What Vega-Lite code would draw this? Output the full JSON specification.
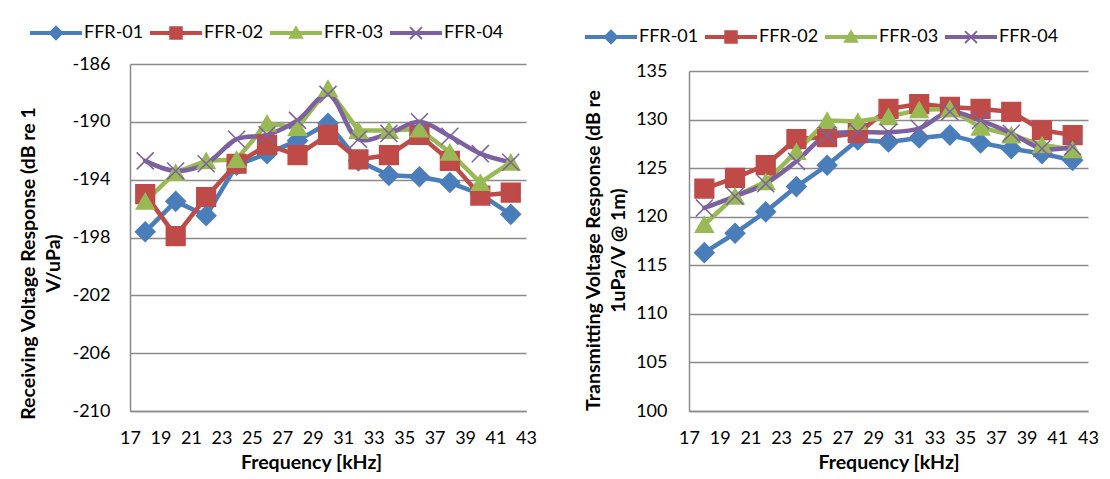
{
  "$schema": "https://vega.github.io/schema/vega-lite/v6.json",
  "background": "white",
  "padding": {"left": 18, "top": 25, "right": 5, "bottom": 0},
  "spacing": 46,
  "config": {
    "font": "Lato",
    "view": {"stroke": null},
    "axis": {
      "domainColor": "#8a8a8a", "domainWidth": 1.5,
      "gridColor": "#8a8a8a", "gridWidth": 1.5,
      "ticks": false,
      "labelFont": "Lato", "labelFontSize": 18, "labelColor": "#000000",
      "titleFont": "Lato", "titleFontSize": 19.5, "titleFontWeight": "bold", "titleColor": "#000000",
      "titleLineHeight": 25
    },
    "legend": {
      "labelFont": "Lato", "labelFontSize": 18, "labelColor": "#000000",
      "symbolSize": 2700, "clipHeight": 16, "labelOffset": 2, "columnPadding": 6, "padding": 0,
      "symbolStrokeWidth": 0
    }
  },
  "datasets": {
    "d": [
      {"f": 18, "s": "FFR-01", "rvr": -197.6, "tvr": 116.3},
      {"f": 20, "s": "FFR-01", "rvr": -195.5, "tvr": 118.3},
      {"f": 22, "s": "FFR-01", "rvr": -196.5, "tvr": 120.5},
      {"f": 24, "s": "FFR-01", "rvr": -193.0, "tvr": 123.1},
      {"f": 26, "s": "FFR-01", "rvr": -192.2, "tvr": 125.3},
      {"f": 28, "s": "FFR-01", "rvr": -191.3, "tvr": 127.9},
      {"f": 30, "s": "FFR-01", "rvr": -190.1, "tvr": 127.7},
      {"f": 32, "s": "FFR-01", "rvr": -192.7, "tvr": 128.1},
      {"f": 34, "s": "FFR-01", "rvr": -193.7, "tvr": 128.4},
      {"f": 36, "s": "FFR-01", "rvr": -193.8, "tvr": 127.6},
      {"f": 38, "s": "FFR-01", "rvr": -194.2, "tvr": 127.0},
      {"f": 40, "s": "FFR-01", "rvr": -195.0, "tvr": 126.5},
      {"f": 42, "s": "FFR-01", "rvr": -196.4, "tvr": 125.8},
      {"f": 18, "s": "FFR-02", "rvr": -195.0, "tvr": 122.9},
      {"f": 20, "s": "FFR-02", "rvr": -197.9, "tvr": 124.0},
      {"f": 22, "s": "FFR-02", "rvr": -195.2, "tvr": 125.3},
      {"f": 24, "s": "FFR-02", "rvr": -192.9, "tvr": 128.0},
      {"f": 26, "s": "FFR-02", "rvr": -191.6, "tvr": 128.2},
      {"f": 28, "s": "FFR-02", "rvr": -192.3, "tvr": 128.6},
      {"f": 30, "s": "FFR-02", "rvr": -190.9, "tvr": 131.1},
      {"f": 32, "s": "FFR-02", "rvr": -192.6, "tvr": 131.6},
      {"f": 34, "s": "FFR-02", "rvr": -192.3, "tvr": 131.3},
      {"f": 36, "s": "FFR-02", "rvr": -190.9, "tvr": 131.1},
      {"f": 38, "s": "FFR-02", "rvr": -192.7, "tvr": 130.8},
      {"f": 40, "s": "FFR-02", "rvr": -195.1, "tvr": 128.9},
      {"f": 42, "s": "FFR-02", "rvr": -194.9, "tvr": 128.4},
      {"f": 18, "s": "FFR-03", "rvr": -195.5, "tvr": 119.2},
      {"f": 20, "s": "FFR-03", "rvr": -193.5, "tvr": 122.1},
      {"f": 22, "s": "FFR-03", "rvr": -192.7, "tvr": 123.6},
      {"f": 24, "s": "FFR-03", "rvr": -192.6, "tvr": 126.7},
      {"f": 26, "s": "FFR-03", "rvr": -190.1, "tvr": 129.9},
      {"f": 28, "s": "FFR-03", "rvr": -190.4, "tvr": 129.8},
      {"f": 30, "s": "FFR-03", "rvr": -187.7, "tvr": 130.3},
      {"f": 32, "s": "FFR-03", "rvr": -190.6, "tvr": 131.0},
      {"f": 34, "s": "FFR-03", "rvr": -190.6, "tvr": 131.1},
      {"f": 36, "s": "FFR-03", "rvr": -190.5, "tvr": 129.2},
      {"f": 38, "s": "FFR-03", "rvr": -192.1, "tvr": 128.4},
      {"f": 40, "s": "FFR-03", "rvr": -194.2, "tvr": 127.4},
      {"f": 42, "s": "FFR-03", "rvr": -192.8, "tvr": 126.9},
      {"f": 18, "s": "FFR-04", "rvr": -192.7, "tvr": 120.9},
      {"f": 20, "s": "FFR-04", "rvr": -193.4, "tvr": 122.1},
      {"f": 22, "s": "FFR-04", "rvr": -192.9, "tvr": 123.4},
      {"f": 24, "s": "FFR-04", "rvr": -191.2, "tvr": 125.7},
      {"f": 26, "s": "FFR-04", "rvr": -190.9, "tvr": 128.4},
      {"f": 28, "s": "FFR-04", "rvr": -189.9, "tvr": 128.7},
      {"f": 30, "s": "FFR-04", "rvr": -188.1, "tvr": 128.7},
      {"f": 32, "s": "FFR-04", "rvr": -191.2, "tvr": 129.1},
      {"f": 34, "s": "FFR-04", "rvr": -190.8, "tvr": 130.8},
      {"f": 36, "s": "FFR-04", "rvr": -190.0, "tvr": 129.9},
      {"f": 38, "s": "FFR-04", "rvr": -191.0, "tvr": 128.6},
      {"f": 40, "s": "FFR-04", "rvr": -192.2, "tvr": 127.0},
      {"f": 42, "s": "FFR-04", "rvr": -192.8, "tvr": 127.2}
    ]
  },
  "resolve": {"scale": {"color": "independent", "y": "independent", "x": "independent"}, "legend": {"color": "independent"}},
  "hconcat": [
    {
      "width": 396,
      "height": 347,
      "data": {"name": "d"},
      "encoding": {
        "x": {"field": "f", "type": "quantitative", "scale": {"domain": [17, 43], "nice": false, "zero": false},
              "axis": {"title": "Frequency [kHz]", "values": [17,19,21,23,25,27,29,31,33,35,37,39,41,43], "grid": false, "labelPadding": 18, "titlePadding": 6, "titleX": 181, "labelFlush": false}},
        "y": {"field": "rvr", "type": "quantitative", "scale": {"domain": [-210, -186], "nice": false, "zero": false},
              "axis": {"title": ["Receiving Voltage Response (dB re 1", "V/uPa)"], "values": [-210,-206,-202,-198,-194,-190,-186], "labelExpr": "toString(datum.value)", "grid": true, "labelPadding": 20, "titlePadding": 8, "titleY": 199}}
      },
      "layer": [
        {
          "transform": [{"filter": "datum.s !== 'FFR-04'"}],
          "mark": {"type": "line", "strokeWidth": 4.5, "strokeCap": "round", "strokeJoin": "round"},
          "encoding": {
            "color": {"field": "s", "type": "nominal",
              "scale": {"domain": ["FFR-01","FFR-02","FFR-03","FFR-04"], "range": ["#4A7EBB","#BE4B48","#98B954","#7D60A0"]},
              "legend": {"title": null, "orient": "none", "direction": "horizontal", "legendX": -100, "legendY": -39,
                "encode": {"symbols": {"update": {
                  "shape": {"signal": "datum.value === 'FFR-01' ? 'M-1,-0.08L1,-0.08L1,0.08L-1,0.08ZM-0.3,0L0,-0.3L0.3,0L0,0.3Z' : datum.value === 'FFR-02' ? 'M-1,-0.08L1,-0.08L1,0.08L-1,0.08ZM-0.26,-0.26L0.26,-0.26L0.26,0.26L-0.26,0.26Z' : datum.value === 'FFR-03' ? 'M-1,-0.08L1,-0.08L1,0.08L-1,0.08ZM0,-0.3L0.3,0.22L-0.3,0.22Z' : 'M-1,-0.08L1,-0.08L1,0.08L-1,0.08ZM-0.205,-0.255L0.255,0.205L0.205,0.255L-0.255,-0.205ZM-0.255,0.205L0.205,-0.255L0.255,-0.205L-0.205,0.255Z'"},
                  "fill": {"signal": "datum.value === 'FFR-01' ? '#4A7EBB' : datum.value === 'FFR-02' ? '#BE4B48' : datum.value === 'FFR-03' ? '#98B954' : '#7D60A0'"},
                  "fillOpacity": {"value": 1},
                  "strokeWidth": {"value": 0}
                }}}}
            }
          }
        },
        {
          "transform": [{"filter": "datum.s === 'FFR-04'"}],
          "mark": {"type": "line", "strokeWidth": 4.5, "strokeCap": "round", "strokeJoin": "round", "interpolate": "catmull-rom"},
          "encoding": {
            "color": {"field": "s", "type": "nominal",
              "scale": {"domain": ["FFR-01","FFR-02","FFR-03","FFR-04"], "range": ["#4A7EBB","#BE4B48","#98B954","#7D60A0"]}}
          }
        },
        {
          "mark": {"type": "point", "filled": true, "opacity": 1, "strokeWidth": 1.5},
          "encoding": {
            "fill": {"field": "s", "type": "nominal", "legend": null,
              "scale": {"domain": ["FFR-01","FFR-02","FFR-03","FFR-04"], "range": ["#4A7EBB","#BE4B48","#98B954","#7D60A0"]}},
            "stroke": {"field": "s", "type": "nominal", "legend": null,
              "scale": {"domain": ["FFR-01","FFR-02","FFR-03","FFR-04"], "range": ["#4A7EBB","#BE4B48","#98B954","#7D60A0"]}},
            "shape": {"field": "s", "type": "nominal", "legend": null,
              "scale": {"domain": ["FFR-01","FFR-02","FFR-03","FFR-04"], "range": ["diamond","square","triangle-up","M-1,-1L1,1M-1,1L1,-1"]}},
            "size": {"field": "s", "type": "nominal", "legend": null,
              "scale": {"domain": ["FFR-01","FFR-02","FFR-03","FFR-04"], "range": [380, 290, 330, 250]}}
          }
        }
      ]
    },
    {
      "width": 399,
      "height": 347,
      "data": {"name": "d"},
      "encoding": {
        "x": {"field": "f", "type": "quantitative", "scale": {"domain": [17, 43], "nice": false, "zero": false},
              "axis": {"title": "Frequency [kHz]", "values": [17,19,21,23,25,27,29,31,33,35,37,39,41,43], "grid": false, "labelPadding": 18, "titlePadding": 6, "labelFlush": false}},
        "y": {"field": "tvr", "type": "quantitative", "scale": {"domain": [100, 135], "nice": false, "zero": false, "range": [347, 7]},
              "axis": {"title": ["Transmitting Voltage Response (dB re", "1uPa/V @ 1m)"], "values": [100,105,110,115,120,125,130,135], "grid": true, "labelPadding": 22, "titlePadding": 7, "titleY": 186}}
      },
      "layer": [
        {
          "transform": [{"filter": "datum.s !== 'FFR-04'"}],
          "mark": {"type": "line", "strokeWidth": 4.5, "strokeCap": "round", "strokeJoin": "round"},
          "encoding": {
            "color": {"field": "s", "type": "nominal",
              "scale": {"domain": ["FFR-01","FFR-02","FFR-03","FFR-04"], "range": ["#4A7EBB","#BE4B48","#98B954","#7D60A0"]},
              "legend": {"title": null, "orient": "none", "direction": "horizontal", "legendX": -104, "legendY": -35,
                "encode": {"symbols": {"update": {
                  "shape": {"signal": "datum.value === 'FFR-01' ? 'M-1,-0.08L1,-0.08L1,0.08L-1,0.08ZM-0.3,0L0,-0.3L0.3,0L0,0.3Z' : datum.value === 'FFR-02' ? 'M-1,-0.08L1,-0.08L1,0.08L-1,0.08ZM-0.26,-0.26L0.26,-0.26L0.26,0.26L-0.26,0.26Z' : datum.value === 'FFR-03' ? 'M-1,-0.08L1,-0.08L1,0.08L-1,0.08ZM0,-0.3L0.3,0.22L-0.3,0.22Z' : 'M-1,-0.08L1,-0.08L1,0.08L-1,0.08ZM-0.205,-0.255L0.255,0.205L0.205,0.255L-0.255,-0.205ZM-0.255,0.205L0.205,-0.255L0.255,-0.205L-0.205,0.255Z'"},
                  "fill": {"signal": "datum.value === 'FFR-01' ? '#4A7EBB' : datum.value === 'FFR-02' ? '#BE4B48' : datum.value === 'FFR-03' ? '#98B954' : '#7D60A0'"},
                  "fillOpacity": {"value": 1},
                  "strokeWidth": {"value": 0}
                }}}}
            }
          }
        },
        {
          "transform": [{"filter": "datum.s === 'FFR-04'"}],
          "mark": {"type": "line", "strokeWidth": 4.5, "strokeCap": "round", "strokeJoin": "round", "interpolate": "catmull-rom"},
          "encoding": {
            "color": {"field": "s", "type": "nominal",
              "scale": {"domain": ["FFR-01","FFR-02","FFR-03","FFR-04"], "range": ["#4A7EBB","#BE4B48","#98B954","#7D60A0"]}}
          }
        },
        {
          "mark": {"type": "point", "filled": true, "opacity": 1, "strokeWidth": 1.5},
          "encoding": {
            "fill": {"field": "s", "type": "nominal", "legend": null,
              "scale": {"domain": ["FFR-01","FFR-02","FFR-03","FFR-04"], "range": ["#4A7EBB","#BE4B48","#98B954","#7D60A0"]}},
            "stroke": {"field": "s", "type": "nominal", "legend": null,
              "scale": {"domain": ["FFR-01","FFR-02","FFR-03","FFR-04"], "range": ["#4A7EBB","#BE4B48","#98B954","#7D60A0"]}},
            "shape": {"field": "s", "type": "nominal", "legend": null,
              "scale": {"domain": ["FFR-01","FFR-02","FFR-03","FFR-04"], "range": ["diamond","square","triangle-up","M-1,-1L1,1M-1,1L1,-1"]}},
            "size": {"field": "s", "type": "nominal", "legend": null,
              "scale": {"domain": ["FFR-01","FFR-02","FFR-03","FFR-04"], "range": [380, 290, 330, 250]}}
          }
        }
      ]
    }
  ]
}
